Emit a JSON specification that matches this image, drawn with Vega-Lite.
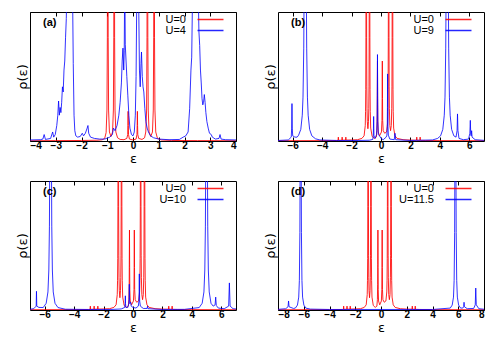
{
"$schema": "https://vega.github.io/schema/vega-lite/v6.json",
"padding": {"left": 15, "top": 11, "right": 5, "bottom": 2},
"config": {
 "view": {"stroke": "#000", "strokeWidth": 1},
 "font": "Liberation Sans",
 "axis": {"grid": false, "domain": false, "labelFont": "Liberation Sans", "labelFontSize": 10, "labelFontWeight": "bold", "labelColor": "#000", "tickColor": "#000", "titleFont": "DejaVu Sans", "titleFontSize": 13, "titleFontWeight": "normal", "titleColor": "#000"},
 "legend": {"orient": "top-right", "title": null, "symbolType": "M-4.33,0H4.33M6.6,0", "symbolSize": 36, "symbolStrokeWidth": 1.5, "rowPadding": -2, "labelFontSize": 11, "labelFont": "Liberation Sans", "labelAlign": "right", "labelOffset": -30, "offset": 2, "padding": 0, "labelColor": "#000"},
 "title": {"anchor": "start", "frame": "group", "offset": -16, "dx": 13, "fontSize": 11, "fontWeight": "bold", "font": "Liberation Sans", "color": "#000"}
},
"datasets": {
 "red_a": [
  {"x":-4,"y":0.002},{"x":-3,"y":0.003},{"x":-2,"y":0.004},{"x":-1.4,"y":0.006},{"x":-1.2,"y":0.009},{"x":-1.1,"y":0.02},{"x":-1.044,"y":0.065},{"x":-1.012,"y":0.24},{"x":-0.996,"y":0.8},{"x":-0.988,"y":2},{"x":-0.98,"y":4},{"x":-0.972,"y":2},{"x":-0.964,"y":0.8},{"x":-0.948,"y":0.24},{"x":-0.916,"y":0.07},{"x":-0.855,"y":0.035},{"x":-0.794,"y":0.07},{"x":-0.762,"y":0.24},{"x":-0.746,"y":0.8},{"x":-0.738,"y":2},{"x":-0.73,"y":4},{"x":-0.722,"y":2},{"x":-0.714,"y":0.8},{"x":-0.698,"y":0.24},{"x":-0.666,"y":0.07},{"x":-0.6,"y":0.025},{"x":-0.5,"y":0.012},{"x":-0.35,"y":0.01},{"x":-0.24,"y":0.02},{"x":-0.206,"y":0.05},{"x":-0.198,"y":0.12},{"x":-0.19,"y":0.23},{"x":-0.182,"y":0.12},{"x":-0.174,"y":0.05},{"x":-0.14,"y":0.015},{"x":0,"y":0.008},{"x":0.12,"y":0.015},{"x":0.154,"y":0.05},{"x":0.162,"y":0.12},{"x":0.17,"y":0.23},{"x":0.178,"y":0.12},{"x":0.186,"y":0.05},{"x":0.22,"y":0.02},{"x":0.35,"y":0.012},{"x":0.45,"y":0.025},{"x":0.496,"y":0.07},{"x":0.528,"y":0.24},{"x":0.544,"y":0.8},{"x":0.552,"y":2},{"x":0.56,"y":4},{"x":0.568,"y":2},{"x":0.576,"y":0.8},{"x":0.592,"y":0.24},{"x":0.624,"y":0.07},{"x":0.69,"y":0.035},{"x":0.756,"y":0.07},{"x":0.788,"y":0.24},{"x":0.804,"y":0.8},{"x":0.812,"y":2},{"x":0.82,"y":4},{"x":0.828,"y":2},{"x":0.836,"y":0.8},{"x":0.852,"y":0.24},{"x":0.884,"y":0.07},{"x":0.95,"y":0.02},{"x":1.1,"y":0.008},{"x":1.5,"y":0.004},{"x":2.5,"y":0.003},{"x":4,"y":0.002}
 ],
 "red_bcd": [
  {"x":-8,"y":0.002},{"x":-4,"y":0.003},{"x":-3,"y":0.004},{"x":-2.92,"y":0.005},{"x":-2.9,"y":0.03},{"x":-2.88,"y":0.005},{"x":-2.66,"y":0.006},{"x":-2.64,"y":0.03},{"x":-2.62,"y":0.006},{"x":-2.41,"y":0.007},{"x":-2.39,"y":0.03},{"x":-2.37,"y":0.007},{"x":-2,"y":0.008},{"x":-1.6,"y":0.01},{"x":-1.3,"y":0.02},{"x":-1.15,"y":0.04},{"x":-1.07,"y":0.12},{"x":-1.05,"y":0.23},{"x":-1.036,"y":0.4},{"x":-1.024,"y":0.8},{"x":-1.012,"y":2},{"x":-1,"y":4},{"x":-0.988,"y":2},{"x":-0.976,"y":0.8},{"x":-0.964,"y":0.42},{"x":-0.95,"y":0.25},{"x":-0.93,"y":0.15},{"x":-0.89,"y":0.095},{"x":-0.85,"y":0.15},{"x":-0.83,"y":0.25},{"x":-0.816,"y":0.42},{"x":-0.804,"y":0.8},{"x":-0.792,"y":2},{"x":-0.78,"y":4},{"x":-0.768,"y":2},{"x":-0.756,"y":0.8},{"x":-0.744,"y":0.4},{"x":-0.73,"y":0.23},{"x":-0.7,"y":0.1},{"x":-0.6,"y":0.035},{"x":-0.45,"y":0.02},{"x":-0.32,"y":0.03},{"x":-0.28,"y":0.08},{"x":-0.26,"y":0.2},{"x":-0.252,"y":0.35},{"x":-0.24,"y":0.62},{"x":-0.228,"y":0.33},{"x":-0.216,"y":0.16},{"x":-0.19,"y":0.07},{"x":-0.1,"y":0.04},{"x":0.03,"y":0.07},{"x":0.066,"y":0.16},{"x":0.078,"y":0.33},{"x":0.09,"y":0.62},{"x":0.102,"y":0.33},{"x":0.114,"y":0.16},{"x":0.15,"y":0.08},{"x":0.25,"y":0.06},{"x":0.38,"y":0.07},{"x":0.45,"y":0.14},{"x":0.47,"y":0.23},{"x":0.484,"y":0.4},{"x":0.496,"y":0.8},{"x":0.508,"y":2},{"x":0.52,"y":4},{"x":0.532,"y":2},{"x":0.544,"y":0.8},{"x":0.556,"y":0.42},{"x":0.57,"y":0.25},{"x":0.6,"y":0.12},{"x":0.65,"y":0.08},{"x":0.7,"y":0.12},{"x":0.73,"y":0.25},{"x":0.744,"y":0.42},{"x":0.756,"y":0.8},{"x":0.768,"y":2},{"x":0.78,"y":4},{"x":0.792,"y":2},{"x":0.804,"y":0.8},{"x":0.816,"y":0.4},{"x":0.83,"y":0.23},{"x":0.86,"y":0.1},{"x":0.95,"y":0.04},{"x":1.1,"y":0.02},{"x":1.5,"y":0.01},{"x":2,"y":0.007},{"x":2.41,"y":0.006},{"x":2.43,"y":0.03},{"x":2.45,"y":0.006},{"x":2.64,"y":0.005},{"x":2.66,"y":0.03},{"x":2.68,"y":0.005},{"x":3,"y":0.004},{"x":4,"y":0.003},{"x":8,"y":0.002}
 ],
 "blue_a": [
  {"x":-4,"y":0.008},{"x":-3.6,"y":0.01},{"x":-3.5,"y":0.015},{"x":-3.45,"y":0.05},{"x":-3.4,"y":0.012},{"x":-3.2,"y":0.02},{"x":-3.12,"y":0.07},{"x":-3.08,"y":0.03},{"x":-3.02,"y":0.05},{"x":-2.96,"y":0.12},{"x":-2.92,"y":0.2},{"x":-2.89,"y":0.31},{"x":-2.86,"y":0.2},{"x":-2.83,"y":0.26},{"x":-2.8,"y":0.22},{"x":-2.77,"y":0.3},{"x":-2.74,"y":0.42},{"x":-2.71,"y":0.38},{"x":-2.68,"y":0.55},{"x":-2.65,"y":0.62},{"x":-2.62,"y":0.8},{"x":-2.59,"y":0.95},{"x":-2.56,"y":1.3},{"x":-2.52,"y":1.6},{"x":-2.46,"y":1.4},{"x":-2.4,"y":1.8},{"x":-2.35,"y":1.2},{"x":-2.32,"y":0.6},{"x":-2.29,"y":0.2},{"x":-2.26,"y":0.08},{"x":-2.22,"y":0.04},{"x":-2.15,"y":0.03},{"x":-2.05,"y":0.035},{"x":-1.97,"y":0.06},{"x":-1.92,"y":0.04},{"x":-1.85,"y":0.06},{"x":-1.78,"y":0.1},{"x":-1.75,"y":0.12},{"x":-1.72,"y":0.06},{"x":-1.65,"y":0.03},{"x":-1.5,"y":0.02},{"x":-1.3,"y":0.015},{"x":-1.1,"y":0.015},{"x":-0.9,"y":0.03},{"x":-0.8,"y":0.05},{"x":-0.76,"y":0.1},{"x":-0.7,"y":0.08},{"x":-0.62,"y":0.12},{"x":-0.55,"y":0.2},{"x":-0.5,"y":0.3},{"x":-0.45,"y":0.45},{"x":-0.42,"y":0.62},{"x":-0.39,"y":0.72},{"x":-0.36,"y":0.55},{"x":-0.34,"y":0.7},{"x":-0.32,"y":1.3},{"x":-0.3,"y":0.75},{"x":-0.27,"y":0.62},{"x":-0.24,"y":0.5},{"x":-0.2,"y":0.35},{"x":-0.16,"y":0.2},{"x":-0.12,"y":0.1},{"x":-0.06,"y":0.05},{"x":0,"y":0.04},{"x":0.05,"y":0.07},{"x":0.09,"y":0.2},{"x":0.12,"y":0.5},{"x":0.15,"y":1.2},{"x":0.19,"y":1.5},{"x":0.22,"y":1.1},{"x":0.25,"y":0.55},{"x":0.28,"y":0.42},{"x":0.31,"y":0.6},{"x":0.33,"y":0.69},{"x":0.36,"y":0.5},{"x":0.39,"y":0.42},{"x":0.42,"y":0.38},{"x":0.46,"y":0.25},{"x":0.5,"y":0.15},{"x":0.55,"y":0.1},{"x":0.6,"y":0.07},{"x":0.68,"y":0.04},{"x":0.8,"y":0.025},{"x":1,"y":0.015},{"x":1.4,"y":0.01},{"x":1.8,"y":0.012},{"x":1.95,"y":0.03},{"x":2.05,"y":0.04},{"x":2.14,"y":0.07},{"x":2.2,"y":0.25},{"x":2.25,"y":0.55},{"x":2.28,"y":0.65},{"x":2.31,"y":1.1},{"x":2.36,"y":1.6},{"x":2.42,"y":1.4},{"x":2.48,"y":1.7},{"x":2.53,"y":1.2},{"x":2.56,"y":0.85},{"x":2.59,"y":0.74},{"x":2.62,"y":0.55},{"x":2.65,"y":0.45},{"x":2.68,"y":0.33},{"x":2.71,"y":0.28},{"x":2.74,"y":0.3},{"x":2.77,"y":0.36},{"x":2.8,"y":0.3},{"x":2.83,"y":0.22},{"x":2.87,"y":0.15},{"x":2.92,"y":0.1},{"x":2.97,"y":0.06},{"x":3.04,"y":0.05},{"x":3.08,"y":0.03},{"x":3.2,"y":0.015},{"x":3.34,"y":0.02},{"x":3.38,"y":0.05},{"x":3.42,"y":0.015},{"x":3.6,"y":0.01},{"x":4,"y":0.008}
 ],
 "blue_b": [
  {"x":-7,"y":0.004},{"x":-6.3,"y":0.008},{"x":-6.1,"y":0.03},{"x":-6.07,"y":0.1},{"x":-6.05,"y":0.29},{"x":-6.03,"y":0.1},{"x":-6,"y":0.04},{"x":-5.85,"y":0.03},{"x":-5.7,"y":0.03},{"x":-5.6,"y":0.045},{"x":-5.45,"y":0.09},{"x":-5.35,"y":0.2},{"x":-5.3,"y":0.34},{"x":-5.25,"y":0.72},{"x":-5.224,"y":1.2},{"x":-5.187,"y":3},{"x":-5.15,"y":6},{"x":-5.113,"y":3},{"x":-5.076,"y":1.2},{"x":-5.05,"y":0.72},{"x":-5,"y":0.34},{"x":-4.95,"y":0.2},{"x":-4.85,"y":0.09},{"x":-4.7,"y":0.04},{"x":-4.45,"y":0.017},{"x":-4.15,"y":0.008},{"x":-3,"y":0.004},{"x":-1.5,"y":0.004},{"x":-0.8,"y":0.006},{"x":-0.56,"y":0.012},{"x":-0.524,"y":0.04},{"x":-0.512,"y":0.1},{"x":-0.5,"y":0.19},{"x":-0.488,"y":0.1},{"x":-0.476,"y":0.04},{"x":-0.4,"y":0.02},{"x":-0.3,"y":0.05},{"x":-0.264,"y":0.15},{"x":-0.252,"y":0.35},{"x":-0.24,"y":0.67},{"x":-0.228,"y":0.35},{"x":-0.216,"y":0.15},{"x":-0.18,"y":0.05},{"x":-0.1,"y":0.04},{"x":0,"y":0.02},{"x":0.15,"y":0.01},{"x":0.35,"y":0.03},{"x":0.402,"y":0.045},{"x":0.426,"y":0.11},{"x":0.438,"y":0.26},{"x":0.45,"y":0.52},{"x":0.462,"y":0.26},{"x":0.474,"y":0.11},{"x":0.5,"y":0.045},{"x":0.6,"y":0.015},{"x":0.9,"y":0.01},{"x":0.95,"y":0.06},{"x":1,"y":0.01},{"x":2,"y":0.004},{"x":3.5,"y":0.008},{"x":3.85,"y":0.02},{"x":4.05,"y":0.04},{"x":4.2,"y":0.09},{"x":4.3,"y":0.2},{"x":4.35,"y":0.34},{"x":4.4,"y":0.72},{"x":4.426,"y":1.2},{"x":4.463,"y":3},{"x":4.5,"y":6},{"x":4.537,"y":3},{"x":4.574,"y":1.2},{"x":4.6,"y":0.72},{"x":4.65,"y":0.34},{"x":4.7,"y":0.2},{"x":4.8,"y":0.09},{"x":4.95,"y":0.04},{"x":5.1,"y":0.03},{"x":5.17,"y":0.08},{"x":5.2,"y":0.21},{"x":5.23,"y":0.08},{"x":5.3,"y":0.02},{"x":5.6,"y":0.01},{"x":5.95,"y":0.015},{"x":6.04,"y":0.06},{"x":6.07,"y":0.16},{"x":6.1,"y":0.05},{"x":6.13,"y":0.04},{"x":6.16,"y":0.08},{"x":6.19,"y":0.03},{"x":6.4,"y":0.01},{"x":7,"y":0.005}
 ],
 "blue_c": [
  {"x":-7,"y":0.006},{"x":-6.75,"y":0.01},{"x":-6.58,"y":0.03},{"x":-6.56,"y":0.145},{"x":-6.54,"y":0.03},{"x":-6.4,"y":0.02},{"x":-6.1,"y":0.019},{"x":-5.9,"y":0.052},{"x":-5.78,"y":0.14},{"x":-5.72,"y":0.31},{"x":-5.68,"y":0.65},{"x":-5.656,"y":1.2},{"x":-5.628,"y":3},{"x":-5.6,"y":6},{"x":-5.572,"y":3},{"x":-5.544,"y":1.2},{"x":-5.52,"y":0.65},{"x":-5.48,"y":0.31},{"x":-5.42,"y":0.14},{"x":-5.3,"y":0.052},{"x":-5.1,"y":0.019},{"x":-4.6,"y":0.006},{"x":-3,"y":0.004},{"x":-1.5,"y":0.004},{"x":-0.8,"y":0.008},{"x":-0.56,"y":0.02},{"x":-0.532,"y":0.05},{"x":-0.52,"y":0.11},{"x":-0.508,"y":0.05},{"x":-0.48,"y":0.02},{"x":-0.35,"y":0.02},{"x":-0.284,"y":0.05},{"x":-0.262,"y":0.1},{"x":-0.25,"y":0.2},{"x":-0.238,"y":0.1},{"x":-0.22,"y":0.05},{"x":-0.16,"y":0.06},{"x":-0.12,"y":0.03},{"x":0,"y":0.02},{"x":0.2,"y":0.015},{"x":0.36,"y":0.03},{"x":0.406,"y":0.07},{"x":0.418,"y":0.14},{"x":0.43,"y":0.28},{"x":0.442,"y":0.14},{"x":0.454,"y":0.07},{"x":0.5,"y":0.03},{"x":0.7,"y":0.012},{"x":0.96,"y":0.012},{"x":0.99,"y":0.03},{"x":1.02,"y":0.01},{"x":2,"y":0.004},{"x":3.5,"y":0.005},{"x":4.5,"y":0.019},{"x":4.7,"y":0.052},{"x":4.82,"y":0.14},{"x":4.88,"y":0.31},{"x":4.92,"y":0.65},{"x":4.944,"y":1.2},{"x":4.972,"y":3},{"x":5,"y":6},{"x":5.028,"y":3},{"x":5.056,"y":1.2},{"x":5.08,"y":0.65},{"x":5.12,"y":0.31},{"x":5.18,"y":0.14},{"x":5.3,"y":0.052},{"x":5.45,"y":0.03},{"x":5.58,"y":0.04},{"x":5.62,"y":0.1},{"x":5.66,"y":0.035},{"x":5.8,"y":0.015},{"x":6.2,"y":0.01},{"x":6.5,"y":0.03},{"x":6.55,"y":0.21},{"x":6.6,"y":0.03},{"x":6.8,"y":0.01},{"x":7,"y":0.008}
 ],
 "blue_d": [
  {"x":-8,"y":0.005},{"x":-7.4,"y":0.01},{"x":-7.22,"y":0.025},{"x":-7.18,"y":0.07},{"x":-7.14,"y":0.025},{"x":-6.8,"y":0.012},{"x":-6.65,"y":0.015},{"x":-6.49,"y":0.038},{"x":-6.39,"y":0.1},{"x":-6.34,"y":0.23},{"x":-6.3,"y":0.6},{"x":-6.28,"y":1.2},{"x":-6.26,"y":3},{"x":-6.24,"y":6},{"x":-6.22,"y":3},{"x":-6.2,"y":1.2},{"x":-6.18,"y":0.6},{"x":-6.14,"y":0.23},{"x":-6.09,"y":0.1},{"x":-5.99,"y":0.038},{"x":-5.84,"y":0.015},{"x":-5.5,"y":0.007},{"x":-4,"y":0.004},{"x":0,"y":0.004},{"x":4,"y":0.004},{"x":5.38,"y":0.015},{"x":5.53,"y":0.038},{"x":5.63,"y":0.1},{"x":5.68,"y":0.23},{"x":5.72,"y":0.6},{"x":5.74,"y":1.2},{"x":5.76,"y":3},{"x":5.78,"y":6},{"x":5.8,"y":3},{"x":5.82,"y":1.2},{"x":5.84,"y":0.6},{"x":5.88,"y":0.23},{"x":5.93,"y":0.1},{"x":6.03,"y":0.038},{"x":6.18,"y":0.015},{"x":6.35,"y":0.015},{"x":6.42,"y":0.025},{"x":6.45,"y":0.06},{"x":6.48,"y":0.025},{"x":6.7,"y":0.01},{"x":7.2,"y":0.012},{"x":7.32,"y":0.04},{"x":7.36,"y":0.17},{"x":7.4,"y":0.04},{"x":7.6,"y":0.01},{"x":8,"y":0.006}
 ]
},
"spacing": 14,
"resolve": {"scale": {"color": "independent"}, "legend": {"color": "independent"}},
"vconcat": [
 {"hconcat": [
  {"width": 206, "height": 129, "title": {"text": "(a)"},
   "layer": [
    {"data": {"name": "red_a"}, "mark": {"type": "line", "clip": true, "strokeWidth": 1, "opacity": 0.85},
     "encoding": {
      "x": {"field": "x", "type": "quantitative", "scale": {"domain": [-4, 4], "nice": false}, "axis": {"values": [-4,-3,-2,-1,0,1,2,3,4], "title": "ε", "tickSize": -4, "labelPadding": 3, "titlePadding": 2}},
      "y": {"field": "y", "type": "quantitative", "scale": {"domain": [0, 1], "nice": false}, "axis": {"title": "ρ(ε)", "labels": false, "ticks": false, "titlePadding": 1}},
      "color": {"datum": "U=0", "type": "nominal", "scale": {"domain": ["U=0", "U=4"], "range": ["#ff0000", "#0000ff"]}}}},
    {"data": {"name": "blue_a"}, "mark": {"type": "line", "clip": true, "strokeWidth": 1, "opacity": 0.8},
     "encoding": {
      "x": {"field": "x", "type": "quantitative", "axis": {"orient": "top", "values": [-4,-3,-2,-1,0,1,2,3,4], "labels": false, "title": null, "tickSize": -4}},
      "y": {"field": "y", "type": "quantitative"},
      "color": {"datum": "U=4", "type": "nominal"}}}
   ],
   "resolve": {"axis": {"x": "independent"}}},
  {"width": 206, "height": 129, "title": {"text": "(b)"},
   "layer": [
    {"data": {"name": "red_bcd"}, "mark": {"type": "line", "clip": true, "strokeWidth": 1, "opacity": 0.85},
     "encoding": {
      "x": {"field": "x", "type": "quantitative", "scale": {"domain": [-7, 7], "nice": false}, "axis": {"values": [-6,-4,-2,0,2,4,6], "title": "ε", "tickSize": -4, "labelPadding": 3, "titlePadding": 2}},
      "y": {"field": "y", "type": "quantitative", "scale": {"domain": [0, 1], "nice": false}, "axis": {"title": "ρ(ε)", "labels": false, "ticks": false, "titlePadding": 1}},
      "color": {"datum": "U=0", "type": "nominal", "scale": {"domain": ["U=0", "U=9"], "range": ["#ff0000", "#0000ff"]}}}},
    {"data": {"name": "blue_b"}, "mark": {"type": "line", "clip": true, "strokeWidth": 1, "opacity": 0.8},
     "encoding": {
      "x": {"field": "x", "type": "quantitative", "axis": {"orient": "top", "values": [-6,-4,-2,0,2,4,6], "labels": false, "title": null, "tickSize": -4}},
      "y": {"field": "y", "type": "quantitative"},
      "color": {"datum": "U=9", "type": "nominal"}}}
   ],
   "resolve": {"axis": {"x": "independent"}}}
 ], "spacing": 26, "resolve": {"scale": {"color": "independent"}, "legend": {"color": "independent"}}},
 {"hconcat": [
  {"width": 206, "height": 129, "title": {"text": "(c)"},
   "layer": [
    {"data": {"name": "red_bcd"}, "mark": {"type": "line", "clip": true, "strokeWidth": 1, "opacity": 0.85},
     "encoding": {
      "x": {"field": "x", "type": "quantitative", "scale": {"domain": [-7, 7], "nice": false}, "axis": {"values": [-6,-4,-2,0,2,4,6], "title": "ε", "tickSize": -4, "labelPadding": 3, "titlePadding": 2}},
      "y": {"field": "y", "type": "quantitative", "scale": {"domain": [0, 1], "nice": false}, "axis": {"title": "ρ(ε)", "labels": false, "ticks": false, "titlePadding": 1}},
      "color": {"datum": "U=0", "type": "nominal", "scale": {"domain": ["U=0", "U=10"], "range": ["#ff0000", "#0000ff"]}}}},
    {"data": {"name": "blue_c"}, "mark": {"type": "line", "clip": true, "strokeWidth": 1, "opacity": 0.8},
     "encoding": {
      "x": {"field": "x", "type": "quantitative", "axis": {"orient": "top", "values": [-6,-4,-2,0,2,4,6], "labels": false, "title": null, "tickSize": -4}},
      "y": {"field": "y", "type": "quantitative"},
      "color": {"datum": "U=10", "type": "nominal"}}}
   ],
   "resolve": {"axis": {"x": "independent"}}},
  {"width": 206, "height": 129, "title": {"text": "(d)"},
   "layer": [
    {"data": {"name": "red_bcd"}, "mark": {"type": "line", "clip": true, "strokeWidth": 1, "opacity": 0.85},
     "encoding": {
      "x": {"field": "x", "type": "quantitative", "scale": {"domain": [-8, 8], "nice": false}, "axis": {"values": [-8,-6,-4,-2,0,2,4,6,8], "title": "ε", "tickSize": -4, "labelPadding": 3, "titlePadding": 2}},
      "y": {"field": "y", "type": "quantitative", "scale": {"domain": [0, 1], "nice": false}, "axis": {"title": "ρ(ε)", "labels": false, "ticks": false, "titlePadding": 1}},
      "color": {"datum": "U=0", "type": "nominal", "scale": {"domain": ["U=0", "U=11.5"], "range": ["#ff0000", "#0000ff"]}}}},
    {"data": {"name": "blue_d"}, "mark": {"type": "line", "clip": true, "strokeWidth": 1, "opacity": 0.8},
     "encoding": {
      "x": {"field": "x", "type": "quantitative", "axis": {"orient": "top", "values": [-8,-6,-4,-2,0,2,4,6,8], "labels": false, "title": null, "tickSize": -4}},
      "y": {"field": "y", "type": "quantitative"},
      "color": {"datum": "U=11.5", "type": "nominal"}}}
   ],
   "resolve": {"axis": {"x": "independent"}}}
 ], "spacing": 26, "resolve": {"scale": {"color": "independent"}, "legend": {"color": "independent"}}}
]
}
